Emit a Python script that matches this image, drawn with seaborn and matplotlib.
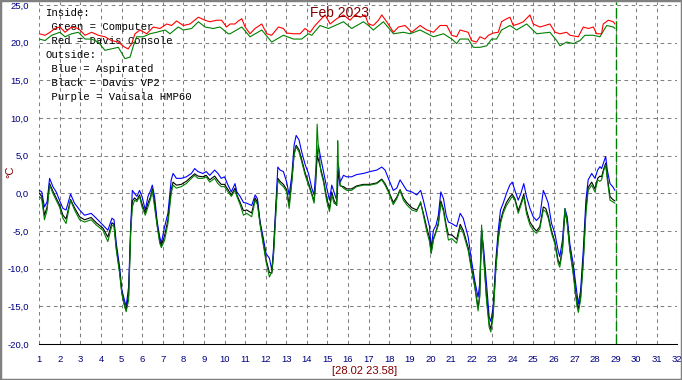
import matplotlib
matplotlib.use("Agg")
import matplotlib.pyplot as plt
from matplotlib.patches import Rectangle
from matplotlib.ticker import MultipleLocator, FuncFormatter
import seaborn as sns
import pandas as pd

# ---------------- data ----------------
title = "Feb 2023"
stamp = "[28.02 23.58]"
y_unit = "°C"
legend_lines = ["Inside:", " Green = Computer", " Red = Davis Console", "Outside:",
                " Blue = Aspirated", " Black = Davis VP2", " Purple = Vaisala HMP60"]
x_ticks = list(range(1, 33))
y_ticks = [-20, -15, -10, -5, 0, 5, 10, 15, 20, 25]
now_day = 29

# inside temperatures
red_days = [1.0, 1.28, 1.52, 1.76, 2.0, 2.25, 2.57, 2.9, 3.22, 3.54, 3.87, 4.19, 4.51, 4.84, 5.16,
            5.32, 5.49, 5.65, 5.89, 6.22, 6.54, 6.86, 7.19, 7.43, 7.67, 8.0, 8.32, 8.73, 9.05, 9.29,
            9.62, 9.86, 10.1,
            10.27, 10.51, 10.67, 10.84, 11.0, 11.24, 11.48, 11.81, 12.05, 12.29, 12.62, 12.86, 13.02,
            13.35, 13.67, 13.91, 14.16, 14.4, 14.64, 14.89, 15.13, 15.45, 15.78, 16.1, 16.34, 16.59,
            16.83, 16.99, 17.23, 17.48, 17.64, 17.88, 18.21, 18.45, 18.77, 19.1, 19.5, 19.83, 20.15,
            20.47, 20.8, 21.04, 21.28,
            21.44, 21.84, 22.0, 22.25, 22.41, 22.65, 22.82, 23.06, 23.3, 23.46, 23.71, 23.87, 24.03,
            24.27, 24.52, 24.84, 25.0, 25.33, 25.57, 25.81, 26.06, 26.3, 26.62, 26.79, 27.19, 27.43,
            27.68, 27.92, 28.08, 28.32, 28.4, 28.65, 28.89, 28.97]
red_vals = [21.2, 21.0, 21.4, 21.9, 22.1, 21.4, 22.1, 21.9, 21.0, 21.4, 21.0, 20.8, 20.3, 20.1, 19.4,
            19.2, 19.9, 21.2, 21.7, 21.2, 22.1, 21.9, 22.5, 22.3, 22.9, 22.3, 22.5, 23.4, 23.0, 22.8,
            23.0, 23.0, 22.1,
            22.5, 22.5, 22.9, 23.2, 22.1, 21.2, 21.9, 22.5, 21.2, 21.0, 22.1, 21.9, 21.3,
            21.2, 21.2, 21.9, 21.4, 22.3, 23.0, 23.7, 22.5, 23.2, 23.7, 23.0, 23.7, 23.4,
            23.7, 22.5, 22.3, 23.0, 23.7, 22.8, 21.4, 22.1, 22.3, 21.4, 22.3, 21.7, 21.4,
            22.3, 22.3, 21.0, 20.8,
            21.7, 21.4, 20.3, 20.1, 20.8, 20.5, 21.0, 21.3, 21.4, 22.8, 23.2, 23.4, 22.3,
            22.5, 22.8, 23.7, 22.5, 22.1, 22.3, 22.5, 21.4, 21.2, 21.4, 21.0, 20.8, 22.1,
            21.9, 22.1, 21.2, 21.2, 22.5, 23.0, 22.8, 22.5]

gin_days = [1.0, 1.28, 1.6, 2.0, 2.25, 2.57, 2.9, 3.22, 3.54, 3.87, 4.19, 4.51, 4.84, 5.16, 5.41,
            5.57, 5.73, 6.05, 6.38, 6.7, 7.11, 7.35, 7.75, 8.0, 8.4, 8.73, 9.05, 9.45, 9.78, 10.18,
            10.27, 10.84, 11.24, 11.81, 12.29, 12.86, 13.35, 13.75, 14.08, 14.24, 14.64, 15.05, 15.78,
            16.18, 16.75, 16.99, 17.23, 17.72, 18.21, 18.69, 19.02, 19.5, 20.15, 20.64, 21.04, 21.28,
            21.44, 21.84, 22.09, 22.41, 22.74, 22.98, 23.22, 23.46, 23.87, 24.19, 24.68, 25.17, 25.81,
            26.14, 26.3, 26.62, 26.95, 27.27, 27.51, 27.92, 28.24, 28.57, 28.89, 28.97]
gin_vals = [20.5, 20.3, 21.0, 21.4, 20.8, 21.2, 21.4, 20.5, 20.5, 20.1, 19.0, 19.2, 19.4, 17.9, 18.1,
            19.6, 20.8, 20.8, 21.2, 21.4, 21.7, 21.2, 22.1, 21.7, 21.9, 22.8, 22.1, 21.9, 22.1, 21.2,
            21.2, 22.1, 20.8, 21.7, 20.1, 21.0, 20.5, 20.5, 21.2, 21.0, 22.3, 21.9, 22.8,
            21.9, 22.8, 22.3, 21.7, 22.8, 21.2, 21.4, 21.2, 21.7, 20.8, 21.2, 20.5, 19.9,
            20.5, 20.5, 19.4, 19.4, 19.6, 20.5, 20.5, 21.7, 22.3, 21.7, 22.5, 21.2, 21.4,
            20.3, 19.6, 20.1, 19.9, 20.3, 21.0, 21.0, 20.8, 22.3, 22.1, 21.9]

# outside temperatures
out_days = [1.00, 1.12, 1.25, 1.38, 1.50, 1.66, 1.82, 1.98, 2.15, 2.30, 2.52, 2.71, 2.96, 3.20, 3.52,
            3.77, 4.09, 4.33, 4.53, 4.63, 4.74, 4.90, 5.01, 5.14, 5.22, 5.34, 5.44, 5.52, 5.63, 5.74,
            5.87, 5.99, 6.15, 6.28, 6.41, 6.49, 6.60, 6.73, 6.85, 6.93, 7.09, 7.25, 7.41, 7.50, 7.66,
            7.90, 8.14, 8.39, 8.55, 8.71, 8.95, 9.11, 9.28, 9.52, 9.68, 9.84, 10.00, 10.17, 10.33,
            10.51, 10.60, 10.76, 10.92, 11.08, 11.32, 11.49, 11.60, 11.73, 11.89, 12.02, 12.18, 12.30,
            12.38, 12.49, 12.59, 12.70, 12.86, 13.02, 13.14, 13.27, 13.38, 13.48, 13.62, 13.75, 13.92,
            14.08, 14.24, 14.35, 14.42, 14.50, 14.56, 14.68, 14.81, 14.97, 15.10, 15.21, 15.32, 15.45,
            15.50, 15.53, 15.62, 15.78, 15.94, 16.17, 16.42, 16.75, 17.07, 17.40, 17.64, 17.80, 17.96,
            18.20, 18.37, 18.53, 18.69, 18.85, 19.10, 19.34, 19.53, 19.66, 19.83, 19.96, 20.04, 20.15,
            20.28, 20.39, 20.51, 20.64, 20.77, 20.88, 21.04, 21.28, 21.45, 21.60, 21.84, 22.00, 22.16,
            22.32, 22.40, 22.49, 22.60, 22.73, 22.86, 22.94, 23.05, 23.18, 23.30, 23.41, 23.54, 23.70,
            23.86, 23.98, 24.11, 24.27, 24.40, 24.54, 24.67, 24.84, 25.00, 25.16, 25.32, 25.49, 25.61,
            25.73, 25.89, 26.05, 26.21, 26.29, 26.42, 26.54, 26.65, 26.78, 26.94, 27.11, 27.19, 27.30,
            27.43, 27.56, 27.67, 27.84, 28.00, 28.13, 28.24, 28.32, 28.43, 28.52, 28.60, 28.73, 28.86,
            28.97]
blue_vals = [0.4, 0.2, -1.8, -1.1, 2.0, 0.9, 0.2, -0.9, -2.0, -2.2, -0.1, -1.3, -2.2, -2.9, -2.65,
             -3.3, -4.2, -4.9, -3.3, -3.5, -6.6, -9.7, -12.8, -14.2, -15.0, -12.4, -4.4, 0.4, 0.0, -0.4,
             0.4, -0.4, -2.2, -0.4, 0.4, 1.1, -0.4, -3.8, -5.75, -6.6, -4.4, -2.65, 1.8, 2.65, 2.0,
             2.0, 2.2, 2.65, 3.3, 2.9, 2.65, 2.9, 2.4, 3.1, 2.65, 2.0, 2.2, 1.1, 0.2,
             1.3, 0.2, -0.4, -1.2, -1.3, -1.6, -0.2, -0.7, -3.8, -6.0, -8.0, -8.6, -10.2,
             -7.3, -1.5, 3.5, 3.1, 2.9, 1.5, -0.2, 2.4, 6.4, 7.7, 7.1, 5.5, 3.8,
             2.65, 0.7, -0.2, 2.5, 5.0, 6.4, 4.6, 2.9, 0.7, -0.9, 1.1, 0.2, -0.9,
             1.0, 3.8, 1.5, 2.4, 2.2, 2.2, 2.5, 2.65, 2.9, 3.1, 3.5, 3.1, 2.0,
             0.4, 0.7, 1.8, 1.1, 0.4, 0.2, -0.2, 0.4, -0.9, -2.9, -4.4, -7.3, -4.9,
             -4.2, -2.9, 0.2, -0.7, -2.9, -3.8, -4.0, -4.4, -2.65, -3.3, -5.8, -8.9, -11.6,
             -13.8, -12.0, -4.9, -7.6, -12.0, -16.4, -17.0, -15.1, -8.9, -4.9, -2.2, -1.3, 0.0,
             1.1, 1.5, 0.4, -0.9, 0.0, 1.3, -0.4, -2.0, -3.1, -3.6, -3.1, 0.4, -0.4,
             -1.3, -4.0, -5.3, -7.6, -8.4, -6.2, -2.0, -3.1, -6.7, -9.3, -12.9, -14.7, -12.9,
             -7.6, -0.9, 1.8, 2.65, 2.0, 3.1, 3.55, 3.3, 4.2, 4.9, 3.1, 1.3, 0.9,
             0.4]
black_vals = [0.0, -0.4, -2.9, -1.8, 1.3, 0.3, -0.6, -1.5, -2.9, -3.4, -0.8, -1.9, -3.1, -3.5, -3.2,
              -3.9, -4.6, -5.8, -3.9, -4.1, -7.2, -10.3, -13.2, -14.8, -15.5, -13.5, -5.0, -1.0, -0.6, -0.9,
              -0.2, -1.4, -2.6, -1.3, -0.4, 0.6, -1.3, -4.2, -6.3, -6.9, -5.6, -3.5, 0.5, 1.5, 1.1,
              1.2, 1.6, 2.2, 2.6, 2.3, 2.2, 2.4, 1.8, 2.3, 1.7, 1.2, 1.2, 0.5, -0.2,
              0.7, -0.2, -1.2, -2.3, -2.2, -2.6, -0.6, -1.2, -4.0, -6.6, -8.8, -10.5, -10.6,
              -8.0, -2.3, 2.0, 1.6, 1.2, 0.5, -1.5, 1.7, 5.3, 6.4, 5.8, 4.5, 2.7,
              1.4, 0.0, -1.0, 1.0, 5.0, 4.5, 3.2, 1.8, -0.7, -2.0, 0.2, -0.9, -1.6,
              3.0, 2.5, 1.0, 0.9, 0.6, 0.6, 1.0, 1.2, 1.2, 1.4, 1.9, 1.3, 0.4,
              -1.2, -0.5, 0.5, -0.6, -1.2, -1.9, -2.2, -1.3, -2.6, -4.6, -5.9, -7.9, -6.0,
              -5.0, -3.9, -1.0, -2.1, -4.2, -5.5, -5.5, -6.1, -4.1, -4.9, -7.2, -9.9, -12.3,
              -15.2, -13.5, -4.8, -8.6, -13.7, -17.3, -18.0, -16.0, -10.0, -5.9, -3.6, -2.3, -1.2,
              -0.5, -0.1, -0.7, -2.3, -1.3, -0.1, -2.2, -3.8, -4.5, -5.0, -4.4, -1.8, -2.0,
              -3.0, -5.0, -6.4, -8.9, -9.4, -7.4, -2.4, -3.8, -7.4, -10.3, -14.2, -15.4, -13.8,
              -8.9, -2.0, 0.8, 1.5, 0.6, 2.0, 2.3, 2.2, 3.3, 4.0, 2.2, -0.4, -0.8,
              -1.0]
gout_vals = [-0.4, -0.8, -3.5, -2.2, 1.1, 0.0, -0.9, -1.8, -3.3, -4.0, -0.9, -2.2, -3.5, -3.8, -3.5,
             -4.2, -4.9, -6.4, -4.2, -4.4, -7.5, -10.6, -13.3, -15.0, -15.7, -14.2, -5.3, -1.8, -0.9, -1.1,
             -0.4, -1.8, -2.9, -1.8, -0.7, 0.4, -1.8, -4.4, -6.6, -7.2, -6.2, -4.0, 0.0, 1.1, 0.7,
             0.9, 1.3, 2.0, 2.4, 2.0, 2.0, 2.2, 1.5, 2.0, 1.3, 0.9, 0.9, 0.2, -0.4,
             0.4, -0.4, -1.5, -2.9, -2.65, -3.1, -0.9, -1.5, -4.2, -6.9, -9.1, -11.1, -10.4,
             -8.2, -2.9, 1.8, 1.3, 0.9, 0.2, -2.0, 1.5, 5.1, 6.2, 5.5, 4.2, 2.4,
             1.1, -0.2, -1.3, 1.0, 9.2, 6.0, 2.9, 1.5, -1.1, -2.4, -0.2, -1.3, -1.5,
             7.0, 4.0, 1.1, 0.7, 0.4, 0.4, 0.9, 1.1, 1.1, 1.3, 1.8, 1.1, 0.2,
             -1.5, -0.7, 0.4, -0.9, -1.5, -2.2, -2.4, -1.1, -2.9, -5.1, -6.4, -8.0, -6.2,
             -5.1, -4.2, -1.3, -2.4, -4.6, -6.2, -6.0, -6.6, -4.5, -5.3, -7.6, -10.2, -12.4,
             -15.6, -13.8, -4.2, -8.9, -14.2, -17.8, -18.4, -16.4, -10.2, -6.2, -4.0, -2.65, -1.6,
             -0.9, -0.4, -0.9, -2.65, -1.6, -0.4, -2.65, -4.2, -4.9, -5.3, -4.7, -2.2, -2.4,
             -3.3, -5.3, -6.7, -9.3, -9.8, -7.6, -2.0, -4.0, -7.6, -10.7, -14.7, -15.8, -14.2,
             -9.3, -2.65, 0.4, 1.1, 0.2, 1.8, 1.6, 1.8, 3.1, 3.8, 1.8, -0.9, -1.1,
             -1.3]

# ---------------- styling ----------------
sns.set_style("white")
plt.rcParams["font.family"] = ["Liberation Sans", "DejaVu Sans"]
plt.rcParams["lines.scale_dashes"] = False

W, H = 682, 380
fig = plt.figure(figsize=(W / 100, H / 100), dpi=100)
fig.patch.set_facecolor("white")
ax = fig.add_axes([39.3 / W, 36 / H, 638 / W, 342 / H])
ax.set_facecolor("white")

navy = "#000080"
maroon = "#800000"

ax.set_xlim(1, 32)
ax.set_ylim(-20, 25.42)
ax.set_xticks(x_ticks)
ax.set_yticks(y_ticks)
ax.xaxis.set_minor_locator(MultipleLocator(0.25))
ax.yaxis.set_minor_locator(MultipleLocator(1))
ax.yaxis.set_major_formatter(FuncFormatter(lambda v, p: f"{v:.1f}".replace(".", ",")))
ax.tick_params(axis="y", which="major", length=6.5, width=0.75, color="black",
               labelcolor=navy, labelsize=6.8, pad=1)
ax.tick_params(axis="y", which="minor", length=3.2, width=0.75, color="black")
ax.tick_params(axis="x", which="major", length=5.8, width=0.75, color="black",
               labelcolor=navy, labelsize=6.8, pad=2.0)
ax.tick_params(axis="x", which="minor", length=3.0, width=0.75, color="black")

for s in ["top", "right", "left"]:
    ax.spines[s].set_visible(False)
ax.spines["bottom"].set_color("black")
ax.spines["bottom"].set_linewidth(0.75)

ax.grid(True, which="major", color="#808080", linestyle=(0, (2.6, 2.6)), linewidth=0.75)
ax.set_axisbelow(True)

# series
lw = 0.8
df_red = pd.DataFrame({"day": red_days, "temp": red_vals})
df_gin = pd.DataFrame({"day": gin_days, "temp": gin_vals})
df_out = pd.DataFrame({"day": out_days, "blue": blue_vals, "black": black_vals, "green": gout_vals})

sns.lineplot(data=df_gin, x="day", y="temp", ax=ax, color="#008000", lw=lw, estimator=None, sort=False, zorder=3)
sns.lineplot(data=df_red, x="day", y="temp", ax=ax, color="#ff0000", lw=lw, estimator=None, sort=False, zorder=4)
sns.lineplot(data=df_out, x="day", y="blue", ax=ax, color="#0000ff", lw=lw, estimator=None, sort=False, zorder=3)
sns.lineplot(data=df_out, x="day", y="black", ax=ax, color="#000000", lw=lw, estimator=None, sort=False, zorder=4)
sns.lineplot(data=df_out, x="day", y="green", ax=ax, color="#008000", lw=lw, estimator=None, sort=False, zorder=5)

ax.axvline(now_day, color="#008000", linestyle=(0, (7.2, 2.2)), linewidth=1.0, zorder=6)

ax.set_xlabel("")
ax.set_ylabel("")

# legend text (drawn beneath the lines)
line_y = [13, 27, 41, 55, 69, 83, 97]
for s, yy in zip(legend_lines, line_y):
    ax.text(45 / W, 1 - yy / H, s, transform=fig.transFigure, ha="left", va="center",
            family=["Liberation Mono", "DejaVu Sans Mono"], fontsize=7.7, color="black", zorder=1)

fig.text(340 / W, 1 - 13 / H, title, ha="center", va="center", color=maroon, fontsize=10)
fig.text(365 / W, 1 - 371 / H, stamp, ha="center", va="center", color=maroon, fontsize=8)
fig.text(10 / W, 1 - 172 / H, y_unit, ha="center", va="center", rotation=90, color=maroon, fontsize=8)

fig.patches.append(Rectangle((0, 0), 1, 1, transform=fig.transFigure, fill=False,
                             edgecolor="#808080", linewidth=2.5))

fig.savefig("out.png", dpi=100)
